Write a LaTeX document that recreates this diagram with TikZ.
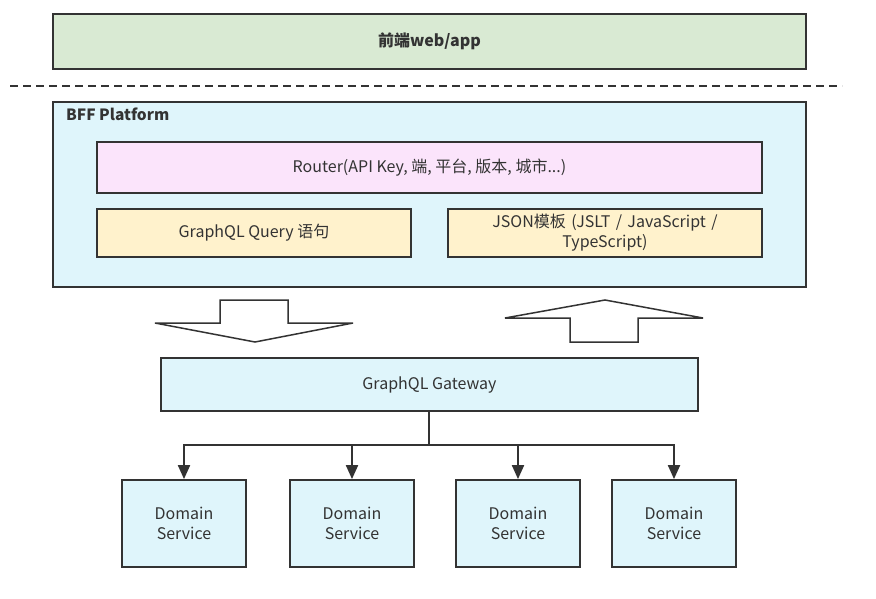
\documentclass[tikz,border=0pt]{standalone}
\usepackage{fontspec}
\setmainfont{Noto Sans CJK SC}
\usetikzlibrary{arrows.meta}
\definecolor{edge}{HTML}{333333}
\definecolor{fgreen}{HTML}{D9EAD3}
\definecolor{fcyan}{HTML}{DFF5FB}
\definecolor{fpink}{HTML}{FBE4FB}
\definecolor{fyellow}{HTML}{FFF2CC}
\tikzset{
  boxnode/.style={draw=edge, line width=1.8pt, inner sep=0pt, align=center, text=edge, font=\fontsize{16}{20}\selectfont},
  bigarrow/.style={draw=edge, line width=1.5pt, fill=white, line join=miter},
  conn/.style={draw=edge, line width=2pt},
  connarrow/.style={draw=edge, line width=2pt, -{Triangle[length=14pt,width=12pt]}},
}
\begin{document}
\begin{tikzpicture}[x=1pt,y=-1pt]
\useasboundingbox (0,0) rectangle (876,598);
% front end
\node[boxnode, fill=fgreen, minimum width=753pt, minimum height=55pt, font=\fontsize{16}{20}\selectfont\bfseries] (front) at (429.5,41.5) {前端web/app};
% dashed separator
\coordinate (dl) at (10,86);
\coordinate (dr) at (842,86);
\draw[edge, line width=1.6pt, dash pattern=on 8pt off 5pt] (dl) -- (dr);
% BFF platform
\node[boxnode, fill=fcyan, minimum width=753pt, minimum height=185pt] (bff) at (429.5,194.5) {};
\node[anchor=west, text=edge, font=\fontsize{15.5}{18}\selectfont\bfseries, inner sep=0pt] (bfflabel) at (66,114) {BFF Platform};
\node[boxnode, fill=fpink, minimum width=665pt, minimum height=51pt] (router) at (429.5,167.5) {Router(API Key, 端, 平台, 版本, 城市...)};
\node[boxnode, fill=fyellow, minimum width=314pt, minimum height=48pt] (gql) at (254,233) {GraphQL Query 语句};
\node[boxnode, fill=fyellow, minimum width=314pt, minimum height=48pt, text width=300pt] (json) at (605,233) {JSON模板 (JSLT / JavaScript /\\TypeScript)};
% big arrows
\draw[bigarrow] (220,300) -- (288,300) -- (288,323) -- (353,323) -- (255,342) -- (155,323) -- (220,323) -- cycle;
\draw[bigarrow] (605,300) -- (703,318) -- (638,318) -- (638,342) -- (570,342) -- (570,318) -- (505,318) -- cycle;
% gateway
\node[boxnode, fill=fcyan, minimum width=537pt, minimum height=53pt] (gw) at (429.5,384.5) {GraphQL Gateway};
% domain services
\node[boxnode, fill=fcyan, minimum width=124pt, minimum height=87pt] (d1) at (184,523.5) {Domain\\Service};
\node[boxnode, fill=fcyan, minimum width=124pt, minimum height=87pt] (d2) at (352,523.5) {Domain\\Service};
\node[boxnode, fill=fcyan, minimum width=124pt, minimum height=87pt] (d3) at (518,523.5) {Domain\\Service};
\node[boxnode, fill=fcyan, minimum width=124pt, minimum height=87pt] (d4) at (674,523.5) {Domain\\Service};
% connectors
\coordinate (hub) at (429,445);
\draw[conn] (gw.south -| hub) -- (hub);
\draw[connarrow] (hub) -| (d1.north);
\draw[connarrow] (hub) -| (d2.north);
\draw[connarrow] (hub) -| (d3.north);
\draw[connarrow] (hub) -| (d4.north);
\end{tikzpicture}
\end{document}
